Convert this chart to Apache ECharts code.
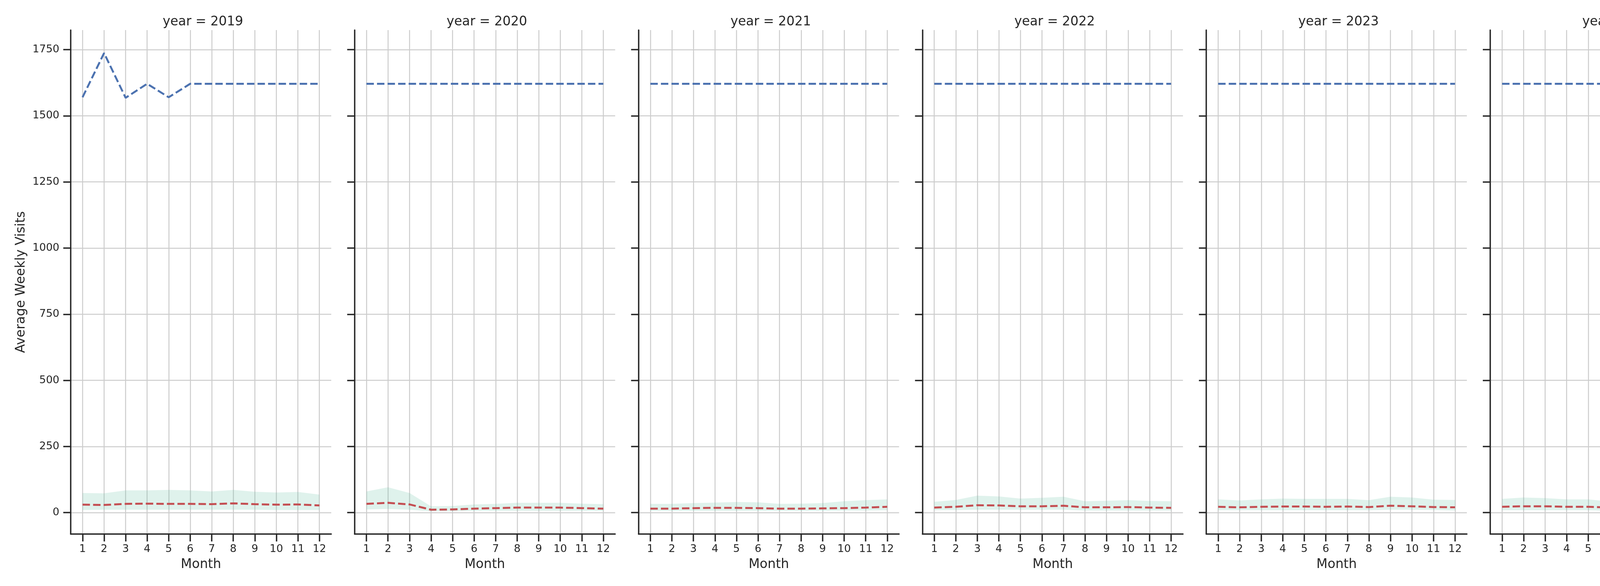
<!DOCTYPE html>
<html>
<head>
<meta charset="utf-8">
<title>Average Weekly Visits by Month</title>
<script src="https://cdn.jsdelivr.net/npm/echarts@6/dist/echarts.min.js"></script>
<style>
  html, body { margin: 0; padding: 0; background: #ffffff; overflow: hidden; }
  #chart { width: 5250px; height: 1500px; }
</style>
</head>
<body>
<div id="chart"></div>
<script>
'use strict';
// facet values
var years = [2019, 2020, 2021, 2022, 2023, 2024, 2025];
var months = [1, 2, 3, 4, 5, 6, 7, 8, 9, 10, 11, 12];
var yTicks = [0, 250, 500, 750, 1000, 1250, 1500, 1750];

var median = [
  [30, 29, 33, 34, 33, 33, 32, 35, 32, 30, 31, 27],
  [33, 37, 31, 11, 12, 15, 17, 19, 19, 19, 17, 15],
  [15, 15, 17, 18, 18, 17, 15, 15, 16, 17, 19, 22],
  [19, 22, 28, 27, 24, 24, 26, 20, 20, 21, 19, 18],
  [22, 20, 22, 23, 23, 22, 23, 21, 26, 24, 21, 20],
  [22, 24, 24, 22, 22, 19, 20, 22, 18, 19, 18, 16],
  [16, 15, 16]
];
var p75 = [
  [74, 73, 84, 84, 86, 84, 80, 86, 79, 76, 78, 68],
  [80, 96, 74, 24, 25, 31, 33, 37, 37, 37, 34, 32],
  [33, 33, 36, 38, 40, 39, 33, 34, 36, 43, 47, 50],
  [41, 48, 64, 61, 53, 56, 60, 43, 45, 47, 44, 43],
  [50, 46, 50, 53, 52, 52, 52, 47, 60, 57, 49, 48],
  [52, 57, 55, 50, 50, 42, 45, 50, 39, 43, 38, 35],
  [36, 34, 35]
];
var p25 = [
  [10, 11, 11, 11, 11, 11, 11, 11, 11, 10, 10, 10],
  [12, 14, 11, 5, 5, 7, 7, 7, 7, 7, 7, 7],
  [7, 7, 7, 7, 7, 7, 7, 7, 7, 8, 8, 9],
  [9, 10, 11, 11, 11, 11, 11, 8, 8, 8, 8, 8],
  [9, 9, 9, 9, 9, 9, 9, 9, 11, 11, 10, 8],
  [9, 9, 9, 9, 9, 7, 8, 9, 8, 8, 8, 8],
  [6, 6, 6]
];
var firstParty = [
  [1570, 1737, 1568, 1621, 1570, 1621, 1621, 1621, 1621, 1621, 1621, 1621],
  [1621, 1621, 1621, 1621, 1621, 1621, 1621, 1621, 1621, 1621, 1621, 1621],
  [1621, 1621, 1621, 1621, 1621, 1621, 1621, 1621, 1621, 1621, 1621, 1621],
  [1621, 1621, 1621, 1621, 1621, 1621, 1621, 1621, 1621, 1621, 1621, 1621],
  [1621, 1621, 1621, 1621, 1621, 1621, 1621, 1621, 1621, 1621, 1621, 1621],
  [1621, 1621, 1621, 1621, 1621, 1621, 1621, 1621, 1621, 1621, 1621, 1621],
  [1621, 1621, 1621]
];

var ink = '#262626';
var gridGrey = '#cccccc';
var red = '#c44e52';
var blue = '#4c72b0';
var bandSolid = '#dcf1eb';
var bandFill = 'rgba(102,194,165,0.21)';
var font = 'DejaVu Sans';

var panelLeft = 181, panelStep = 726.8, panelWidth = 667;
var panelTop = 77, panelHeight = 1290;

function pairs(vals){
  return vals.map(function(v, k){ return [months[k], v]; });
}
function plain(v){
  return String(v);
}

// 25th-75th band drawn as one polygon through the axis scales
function bandSeries(i){
  return {
    type: 'custom', name: '25th-75th Percentile', xAxisIndex: i, yAxisIndex: i,
    data: pairs(p75[i]), silent: true, z: 1,
    itemStyle: { color: bandSolid },
    renderItem: function(params, api){
      if (params.dataIndex !== 0) return null;
      var upper = p75[i].map(function(v, k){ return api.coord([months[k], v]); });
      var lower = p25[i].map(function(v, k){ return api.coord([months[k], v]); }).reverse();
      return {
        type: 'polygon',
        shape: { points: upper.concat(lower) },
        style: { fill: bandFill, stroke: null }
      };
    }
  };
}

var grids = [], xAxes = [], yAxes = [], titles = [], series = [];
years.forEach(function(year, i){
  var left = panelLeft + i * panelStep;
  grids.push({ left: left, top: panelTop, width: panelWidth, height: panelHeight, containLabel: false, outerBoundsMode: 'none' });
  titles.push({
    text: 'year = ' + year, left: left + panelWidth / 2, top: 35, textAlign: 'center',
    textStyle: { fontFamily: font, fontSize: 33, fontWeight: 'normal', color: ink }
  });
  xAxes.push({
    type: 'value', gridIndex: i, min: 0.45, max: 12.55,
    name: 'Month', nameLocation: 'middle', nameGap: 62,
    nameTextStyle: { fontFamily: font, fontSize: 33, color: ink },
    axisLine: { show: true, onZero: false, lineStyle: { color: ink, width: 3.5 } },
    axisTick: { show: true, length: 19, customValues: months, lineStyle: { color: ink, width: 3.5 } },
    axisLabel: { customValues: months, formatter: plain, margin: 25, fontFamily: font, fontSize: 27, color: ink },
    splitLine: { show: true, lineStyle: { color: gridGrey, width: 2.5 } }
  });
  yAxes.push({
    type: 'value', gridIndex: i, min: -81, max: 1824,
    name: i === 0 ? 'Average Weekly Visits' : '', nameLocation: 'middle', nameGap: 110, nameRotate: 90,
    nameTextStyle: { fontFamily: font, fontSize: 33, color: ink },
    axisLine: { show: true, onZero: false, lineStyle: { color: ink, width: 3.5 } },
    axisTick: { show: true, length: 19, customValues: yTicks, lineStyle: { color: ink, width: 3.5 } },
    axisLabel: { show: i === 0, customValues: yTicks, formatter: plain, margin: 29, fontFamily: font, fontSize: 27, color: ink },
    splitLine: { show: true, lineStyle: { color: gridGrey, width: 2.5 } }
  });

  series.push(bandSeries(i));
  series.push({
    type: 'line', name: 'Median', xAxisIndex: i, yAxisIndex: i,
    data: pairs(median[i]), symbol: 'none', z: 3, color: red,
    lineStyle: { color: red, width: 5, type: [19, 8] }
  });
  series.push({
    type: 'line', name: 'First Party Median', xAxisIndex: i, yAxisIndex: i,
    data: pairs(firstParty[i]), symbol: 'none', z: 3, color: blue,
    lineStyle: { color: blue, width: 5, type: [19, 8] }
  });
});

var myChart = echarts.init(document.getElementById('chart'), null, { renderer: 'canvas' });
myChart.setOption({
  animation: false,
  backgroundColor: '#ffffff',
  textStyle: { fontFamily: font },
  title: titles,
  grid: grids,
  xAxis: xAxes,
  yAxis: yAxes,
  legend: {
    left: 4753, top: 118, orient: 'vertical',
    data: [
      { name: 'Median', itemStyle: { opacity: 0 }, lineStyle: { width: 5 } },
      { name: 'First Party Median', itemStyle: { opacity: 0 }, lineStyle: { width: 5 } },
      { name: '25th-75th Percentile', icon: 'rect', itemStyle: { color: bandSolid, borderWidth: 0 } }
    ],
    itemWidth: 67, itemHeight: 23, itemGap: 17,
    padding: [15, 16, 12, 13],
    lineStyle: { width: 5 },
    backgroundColor: 'rgba(255,255,255,0.8)',
    borderColor: gridGrey, borderWidth: 2.5, borderRadius: 8,
    textStyle: { fontFamily: font, fontSize: 33, color: ink, padding: [0, 0, 0, 14] },
    selectedMode: false
  },
  series: series
});
</script>
</body>
</html>
